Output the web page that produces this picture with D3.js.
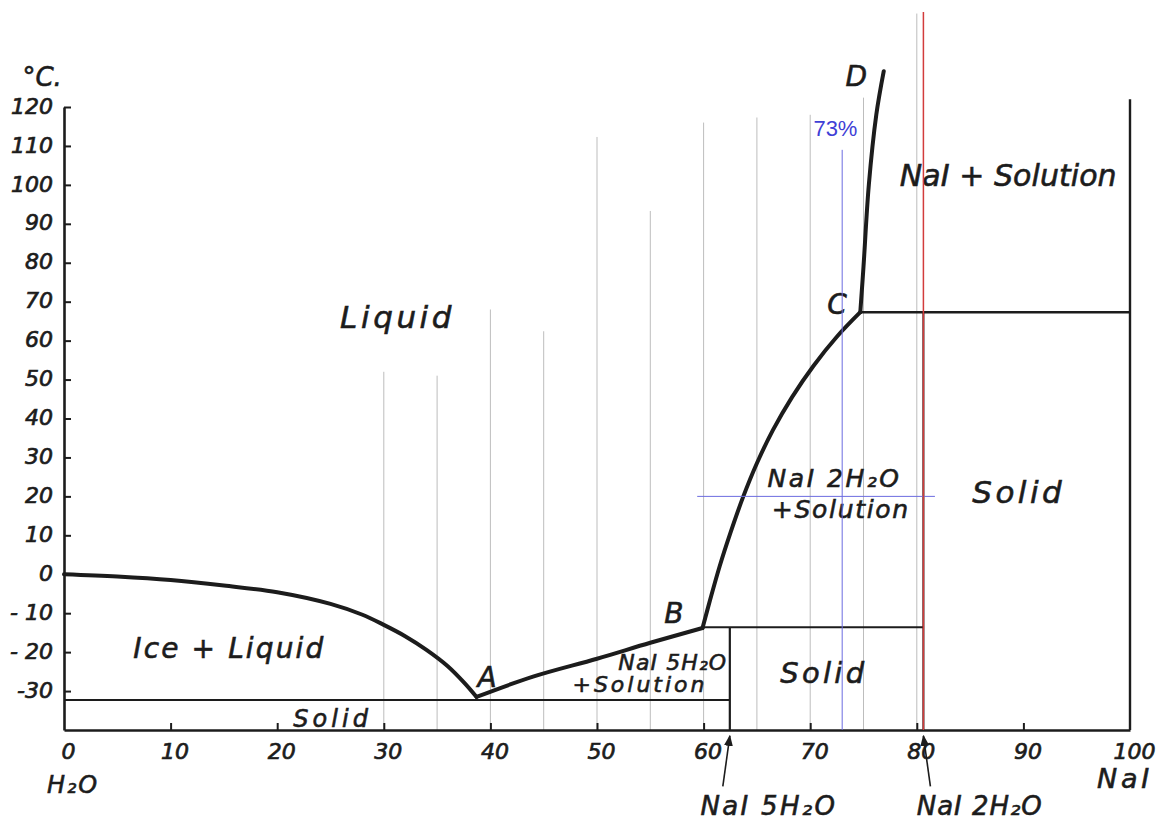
<!DOCTYPE html>
<html>
<head>
<meta charset="utf-8">
<script src="https://cdn.jsdelivr.net/npm/d3@7"></script>
<style>
body { margin: 0; background: #fff; }
svg { display: block; background: #fff; }
.hand { font-family: "DejaVu Sans", sans-serif; font-style: italic; fill: #1c1c1c; stroke: #1c1c1c; stroke-width: 0.6; }
.tick text { font-family: "DejaVu Sans", sans-serif; font-style: italic; fill: #1c1c1c; stroke: #1c1c1c; stroke-width: 0.7; }
</style>
</head>
<body>
<div id="container"><svg></svg></div>
<script>
let width = 1158;
let height = 823;

// liquidus branches: [wt % NaI, temperature °C]
let iceCurve = [[0, 0], [5, -0.6], [10, -1.5], [15, -2.9], [20, -4.6], [25, -7.6], [28, -10.4],
    [30, -13], [32, -15.9], [34, -19.4], [36, -23.6], [37.6, -28], [38.7, -31.5]];
let pentahydrateCurve = [[38.7, -31.5], [44, -26.3], [50, -21.7], [55, -17.6], [59.9, -13.8]];
let dihydrateCurve = [[59.9, -13.8], [60.6, -6.7], [61.5, 2], [62.5, 10.5], [63.7, 19.8], [65, 28.5],
    [66.5, 37], [68.3, 45.5], [70.3, 53.5], [72.5, 61], [74.7, 67.3]];
let anhydrousCurve = [[74.7, 67.3], [75.0, 79], [75.5, 100], [76.2, 118], [76.9, 129.2]];

// invariant lines and compound compositions
let eutecticT = -32.3;      // ice + NaI.5H2O
let transitionB = -13.6;    // NaI.5H2O -> NaI.2H2O
let transitionC = 67.3;     // NaI.2H2O -> NaI
let pentahydrateX = 62.46;
let dihydrateX = 80.62;

// thin grey guide lines: composition and top temperature
let guideX = [30, 35, 40, 45, 50, 55, 60, 65, 70, 75, 80];
let guideTop = [52, 51, 68, 62.4, 112.3, 93.3, 116, 117.3, 118, 122.4, 144];

// reading marks
let readX = 73, readT = 20, readTop = 109;
let readH = [59.4, 81.7];

let xTicks = [0, 10, 20, 30, 40, 50, 60, 70, 80, 90, 100];
let yTicks = [-30, -20, -10, 0, 10, 20, 30, 40, 50, 60, 70, 80, 90, 100, 110, 120];
let yTickLabels = ['-30', '- 20', '- 10', '0', '10', '20', '30', '40', '50', '60', '70', '80', '90', '100', '110', '120'];

// labels: text, x (% NaI), baseline T, font size, width in px
let labels = [
    ['°C.', -3.9, 125.4, 26, 0],
    ['Liquid', 25.9, 63.3, 31, 115],
    ['Ice + Liquid', 6.5, -21.5, 28, 192],
    ['Solid', 21.5, -39.2, 24, 79],
    ['A', 38.8, -29, 28, 0],
    ['B', 56.3, -12.6, 28, 0],
    ['C', 71.6, 66.9, 28, 0],
    ['D', 73.3, 125.4, 28, 0],
    ['NaI 5H₂O', 52, -24.6, 22, 109],
    ['+Solution', 47.7, -30.3, 22, 135],
    ['Solid', 67.2, -27.9, 29, 87],
    ['NaI 2H₂O', 66, 22.3, 25, 134],
    ['+Solution', 66.4, 14.4, 25, 138],
    ['Solid', 85.2, 18.2, 31, 93],
    ['NaI + Solution', 78.4, 99.7, 30, 217],
    ['H₂O', -1.6, -56.2, 24, 52],
    ['NaI', 96.9, -54.9, 27, 56],
    ['NaI 5H₂O', 59.7, -61.8, 26, 137],
    ['NaI 2H₂O', 80, -61.8, 26, 126]
];

let x = d3.scaleLinear().domain([0, 100]).range([64, 1130]);
let y = d3.scaleLinear().domain([-40, 120]).range([730, 107]);

let svg = d3.select('#container').select('svg')
    .attr('width', width)
    .attr('height', height);

let ink = '#1c1c1c';

// grey guides
svg.append('g')
    .attr('stroke', '#bdbdbd')
    .attr('stroke-width', 1)
    .selectAll('line')
    .data(guideX)
    .join('line')
    .attr('x1', d => x(d)).attr('x2', d => x(d))
    .attr('y1', (d, i) => y(guideTop[i]))
    .attr('y2', y(-40));

// phase boundaries (straight)
let lines = svg.append('g').attr('stroke', ink).attr('fill', 'none');
lines.append('line')
    .attr('x1', x(0)).attr('x2', x(pentahydrateX))
    .attr('y1', y(eutecticT)).attr('y2', y(eutecticT))
    .attr('stroke-width', 2);
lines.append('line')
    .attr('x1', x(pentahydrateX)).attr('x2', x(pentahydrateX))
    .attr('y1', y(transitionB)).attr('y2', y(-40))
    .attr('stroke-width', 2.2);
lines.append('line')
    .attr('x1', x(59.9)).attr('x2', x(dihydrateX))
    .attr('y1', y(transitionB)).attr('y2', y(transitionB))
    .attr('stroke-width', 2);
lines.append('line')
    .attr('x1', x(dihydrateX)).attr('x2', x(dihydrateX))
    .attr('y1', y(transitionC)).attr('y2', y(-40))
    .attr('stroke-width', 2);
lines.append('line')
    .attr('x1', x(74.7)).attr('x2', x(100))
    .attr('y1', y(transitionC)).attr('y2', y(transitionC))
    .attr('stroke-width', 2.4);
// right border (pure NaI)
lines.append('line')
    .attr('x1', x(100)).attr('x2', x(100))
    .attr('y1', y(122)).attr('y2', y(-40))
    .attr('stroke-width', 2.4);

// liquidus curves
let curve = d3.line()
    .x(d => x(d[0]))
    .y(d => y(d[1]))
    .curve(d3.curveCatmullRom.alpha(0.5));
svg.append('g')
    .attr('fill', 'none')
    .attr('stroke', ink)
    .attr('stroke-width', 4)
    .attr('stroke-linecap', 'round')
    .attr('stroke-linejoin', 'round')
    .selectAll('path')
    .data([iceCurve, pentahydrateCurve, dihydrateCurve, anhydrousCurve])
    .join('path')
    .attr('d', curve);

// axes
let xAxis = d3.axisBottom(x)
    .tickValues(xTicks)
    .tickSizeInner(-7)
    .tickSizeOuter(0)
    .tickPadding(13);
let gx = svg.append('g')
    .attr('transform', `translate(0, ${y(-40)})`)
    .call(xAxis);
gx.select('.domain').attr('stroke', ink).attr('stroke-width', 2.6);
gx.selectAll('.tick line').attr('stroke', ink).attr('stroke-width', 2)
    .attr('display', d => (d === 0 || d === 100) ? 'none' : null);
gx.selectAll('.tick text').attr('font-size', 22).attr('dx', 4);

let yAxis = d3.axisLeft(y)
    .tickValues(yTicks)
    .tickFormat((d, i) => yTickLabels[i])
    .tickSizeInner(-7)
    .tickSizeOuter(0)
    .tickPadding(11);
let gy = svg.append('g')
    .attr('transform', `translate(${x(0)}, 0)`)
    .call(yAxis);
gy.select('.domain').attr('stroke', ink).attr('stroke-width', 2.6);
gy.selectAll('.tick line').attr('stroke', ink).attr('stroke-width', 2);
gy.selectAll('.tick text').attr('font-size', 22).attr('dy', '0.28em');

// region labels
let lab = svg.append('g')
    .selectAll('text')
    .data(labels)
    .join('text')
    .attr('class', 'hand')
    .attr('x', d => x(d[1]))
    .attr('y', d => y(d[2]))
    .attr('font-size', d => d[3])
    .text(d => d[0]);
lab.each(function (d) {
    if (!d[4]) return;
    let w = this.getComputedTextLength();
    let n = d[0].length;
    d3.select(this).attr('letter-spacing', ((d[4] - w) / n).toFixed(2));
});

// arrows to the hydrate compositions
svg.append('defs').append('marker')
    .attr('id', 'head')
    .attr('viewBox', '0 0 10 10')
    .attr('refX', 9).attr('refY', 5)
    .attr('markerWidth', 7).attr('markerHeight', 7)
    .attr('orient', 'auto')
    .append('path')
    .attr('d', 'M0,1 L10,5 L0,9 Z')
    .attr('fill', ink);
svg.append('g')
    .selectAll('line')
    .data([pentahydrateX, dihydrateX])
    .join('line')
    .attr('x1', (d, i) => x(d) + (i ? 7 : -7))
    .attr('y1', y(-54.5))
    .attr('x2', d => x(d))
    .attr('y2', y(-41.5))
    .attr('stroke', ink)
    .attr('stroke-width', 1.6)
    .attr('marker-end', 'url(#head)');

// later reading marks: blue cross at 73 %, red line at NaI.2H2O
let marks = svg.append('g');
marks.append('line')
    .attr('x1', x(readX)).attr('x2', x(readX))
    .attr('y1', y(readTop)).attr('y2', y(-40))
    .attr('stroke', '#6b6be0').attr('stroke-width', 1);
marks.append('line')
    .attr('x1', x(readH[0])).attr('x2', x(readH[1]))
    .attr('y1', y(readT)).attr('y2', y(readT))
    .attr('stroke', '#6b6be0').attr('stroke-width', 1);
marks.append('text')
    .attr('x', x(70.3)).attr('y', y(112.6))
    .attr('font-family', 'Liberation Sans, Arial, sans-serif')
    .attr('font-size', 22)
    .attr('fill', '#3f3fd6')
    .text(readX + '%');
marks.append('line')
    .attr('x1', x(dihydrateX)).attr('x2', x(dihydrateX))
    .attr('y1', 12).attr('y2', y(-40))
    .attr('stroke', '#d23c3c').attr('stroke-width', 1.5);
</script>
</body>
</html>
